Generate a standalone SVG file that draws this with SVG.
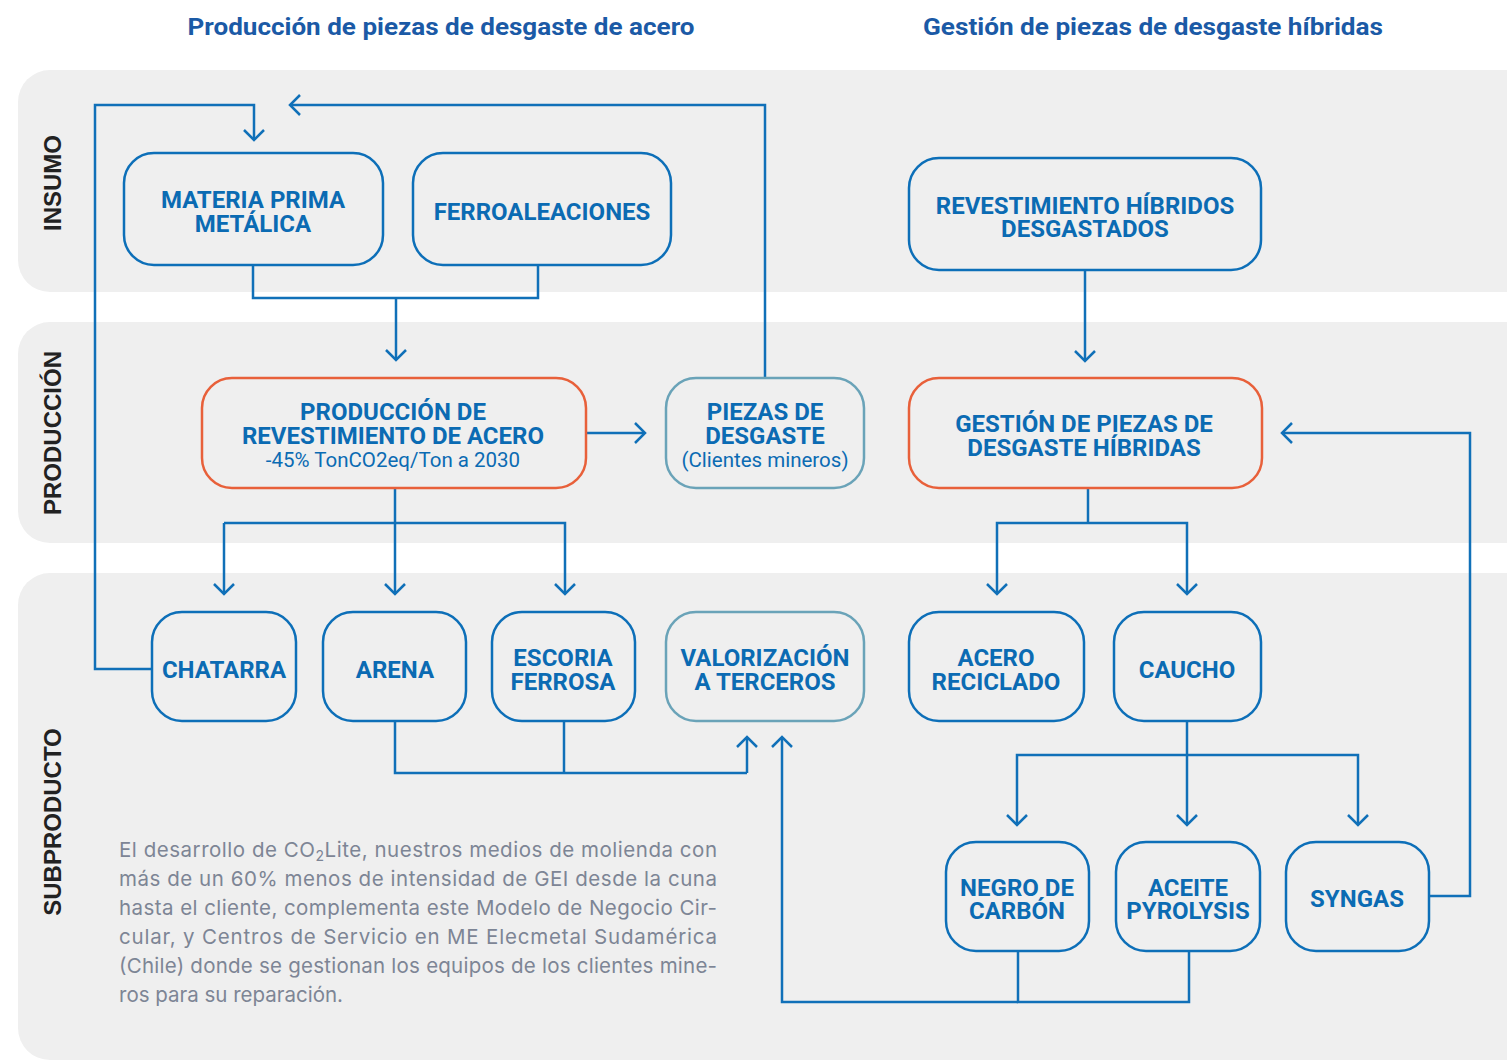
<svg xmlns="http://www.w3.org/2000/svg" width="1507" height="1062" viewBox="0 0 1507 1062">
<defs>
<marker id="ah" markerUnits="userSpaceOnUse" markerWidth="24" markerHeight="24" viewBox="-12 -12 24 24" refX="0" refY="0" orient="auto" overflow="visible">
<path d="M-10,-10 L0,0 L-10,10" fill="none" stroke="#1070b8" stroke-width="2.5"/>
</marker>
</defs>
<style>
.band{fill:#efefef}
.blab{font-family:"Liberation Sans",Arial,sans-serif;font-weight:bold;font-size:24px;fill:#222;text-anchor:middle}
.hdr{font-family:Roboto,"Liberation Sans",sans-serif;font-weight:bold;font-size:24px;fill:#1b5aa6;text-anchor:middle}
.box{fill:#efefef;stroke:#0d6fb8;stroke-width:2.5}
.box.or{stroke:#e8603a}
.box.tl{stroke:#6aa3b8}
.t{font-family:Roboto,"Liberation Sans",sans-serif;font-weight:bold;font-size:24px;fill:#0b6bb3;text-anchor:middle}
.s{font-family:Roboto,"Liberation Sans",sans-serif;font-size:20.5px;font-weight:normal}
.c{fill:none;stroke:#1070b8;stroke-width:2.5}
.ca{fill:none;stroke:#1070b8;stroke-width:2.5;marker-end:url(#ah)}
.p{font-family:Inter,"Liberation Sans",sans-serif;font-size:20.5px;fill:#7d8595}
</style>
<rect width="1507" height="1062" fill="#ffffff"/>
<g id="bands">
<rect class="band" x="18" y="70" width="1560" height="222" rx="32"/>
<rect class="band" x="18" y="322" width="1560" height="221" rx="32"/>
<rect class="band" x="18" y="573" width="1560" height="487" rx="32"/>
<text class="blab" transform="translate(61,183) rotate(-90)">INSUMO</text>
<text class="blab" transform="translate(61,433) rotate(-90)">PRODUCCIÓN</text>
<text class="blab" transform="translate(61,822) rotate(-90)">SUBPRODUCTO</text>
</g>
<g id="headers">
<text class="hdr" x="441" y="35" textLength="507" lengthAdjust="spacingAndGlyphs">Producción de piezas de desgaste de acero</text>
<text class="hdr" x="1153" y="35" textLength="460" lengthAdjust="spacingAndGlyphs">Gestión de piezas de desgaste híbridas</text>
</g>
<g id="connectors">
<path class="ca" d="M152,669 H95 V105 H254 V140"/>
<path class="ca" d="M765,378 V105 H290"/>
<path class="c" d="M253,265 V298 H538 V265"/>
<path class="ca" d="M396,298 V360"/>
<path class="ca" d="M586,433 H645"/>
<path class="c" d="M395,488 V523"/>
<path class="ca" d="M224,523 V594"/>
<path class="ca" d="M224,523 H565 V594"/>
<path class="ca" d="M395,523 V594"/>
<path class="c" d="M395,721 V773 H747"/>
<path class="c" d="M564,721 V773"/>
<path class="ca" d="M747,773 V737"/>
<path class="c" d="M1018,951 V1002 H1189 V951"/>
<path class="ca" d="M1018,1002 H782 V737"/>
<path class="ca" d="M1085,270 V361"/>
<path class="c" d="M1088,488 V523"/>
<path class="ca" d="M1088,523 H997 V594"/>
<path class="ca" d="M1088,523 H1187 V594"/>
<path class="ca" d="M1187,721 V825"/>
<path class="ca" d="M1187,755 H1017 V825"/>
<path class="ca" d="M1187,755 H1358 V825"/>
<path class="ca" d="M1429,896 H1470 V433 H1282"/>
</g>
<g id="n-materia"><rect class="box" x="124" y="153" width="259" height="112" rx="30"/><text class="t" x="253" y="208">MATERIA PRIMA<tspan x="253" dy="24">METÁLICA</tspan></text></g>
<g id="n-ferro"><rect class="box" x="413" y="153" width="258" height="112" rx="30"/><text class="t" x="542" y="220">FERROALEACIONES</text></g>
<g id="n-revhib"><rect class="box" x="909" y="158" width="352" height="112" rx="30"/><text class="t" x="1085" y="214">REVESTIMIENTO HÍBRIDOS<tspan x="1085" dy="23">DESGASTADOS</tspan></text></g>
<g id="n-produccion"><rect class="box or" x="202" y="378" width="384" height="110" rx="30"/><text class="t" x="393" y="420">PRODUCCIÓN DE<tspan x="393" dy="24">REVESTIMIENTO DE ACERO</tspan><tspan class="s" x="393" dy="23">-45% TonCO2eq/Ton a 2030</tspan></text></g>
<g id="n-piezas"><rect class="box tl" x="666" y="378" width="198" height="110" rx="30"/><text class="t" x="765" y="420">PIEZAS DE<tspan x="765" dy="24">DESGASTE</tspan><tspan class="s" x="765" dy="23">(Clientes mineros)</tspan></text></g>
<g id="n-gestion"><rect class="box or" x="909" y="378" width="353" height="110" rx="30"/><text class="t" x="1084" y="432">GESTIÓN DE PIEZAS DE<tspan x="1084" dy="24">DESGASTE HÍBRIDAS</tspan></text></g>
<g id="n-chatarra"><rect class="box" x="152" y="612" width="144" height="109" rx="30"/><text class="t" x="224" y="678">CHATARRA</text></g>
<g id="n-arena"><rect class="box" x="323" y="612" width="143" height="109" rx="30"/><text class="t" x="395" y="678">ARENA</text></g>
<g id="n-escoria"><rect class="box" x="492" y="612" width="143" height="109" rx="30"/><text class="t" x="563" y="666">ESCORIA<tspan x="563" dy="24">FERROSA</tspan></text></g>
<g id="n-valorizacion"><rect class="box tl" x="666" y="612" width="198" height="109" rx="30"/><text class="t" x="765" y="666">VALORIZACIÓN<tspan x="765" dy="24">A TERCEROS</tspan></text></g>
<g id="n-acero"><rect class="box" x="909" y="612" width="175" height="109" rx="30"/><text class="t" x="996" y="666">ACERO<tspan x="996" dy="24">RECICLADO</tspan></text></g>
<g id="n-caucho"><rect class="box" x="1114" y="612" width="147" height="109" rx="30"/><text class="t" x="1187" y="678">CAUCHO</text></g>
<g id="n-negro"><rect class="box" x="946" y="842" width="143" height="109" rx="30"/><text class="t" x="1017" y="896">NEGRO DE<tspan x="1017" dy="23">CARBÓN</tspan></text></g>
<g id="n-aceite"><rect class="box" x="1116" y="842" width="144" height="109" rx="30"/><text class="t" x="1188" y="896">ACEITE<tspan x="1188" dy="23">PYROLYSIS</tspan></text></g>
<g id="n-syngas"><rect class="box" x="1286" y="842" width="143" height="109" rx="30"/><text class="t" x="1357" y="907">SYNGAS</text></g>
<g id="paragraph">
<text class="p" x="119" y="857" textLength="598" lengthAdjust="spacing">El desarrollo de CO<tspan font-size="14" dy="4">2</tspan><tspan dy="-4">Lite, nuestros medios de molienda con</tspan></text>
<text class="p" x="119" y="886" textLength="598" lengthAdjust="spacing">más de un 60% menos de intensidad de GEI desde la cuna</text>
<text class="p" x="119" y="915" textLength="598" lengthAdjust="spacing">hasta el cliente, complementa este Modelo de Negocio Cir-</text>
<text class="p" x="119" y="944" textLength="598" lengthAdjust="spacing">cular, y Centros de Servicio en ME Elecmetal Sudamérica</text>
<text class="p" x="119" y="973" textLength="598" lengthAdjust="spacing">(Chile) donde se gestionan los equipos de los clientes mine-</text>
<text class="p" x="119" y="1002">ros para su reparación.</text>
</g>
</svg>
